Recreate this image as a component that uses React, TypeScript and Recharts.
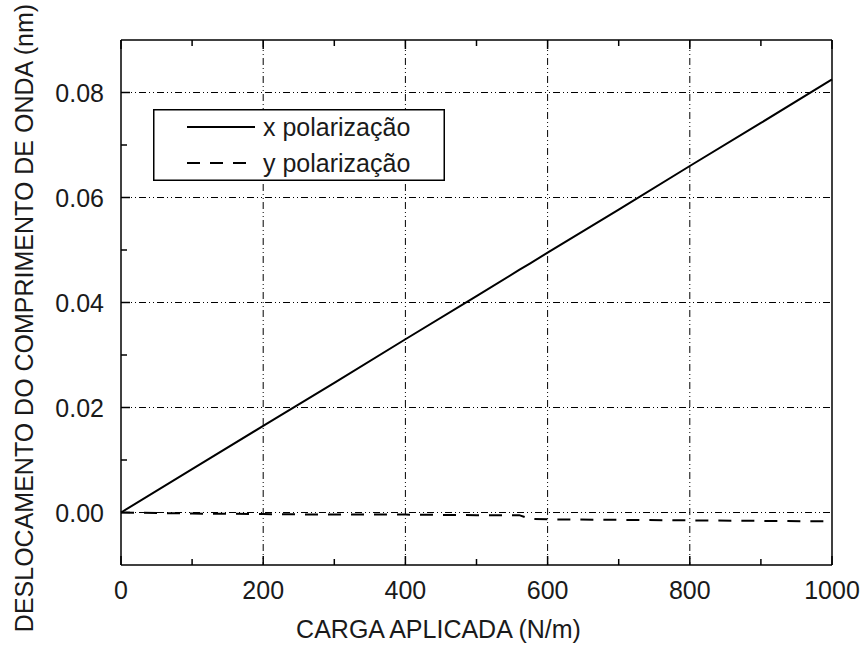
import React from 'react';
import { LineChart, Line, XAxis, YAxis, CartesianGrid } from 'recharts';

// applied load (N/m)
const loads = [0, 100, 200, 300, 400, 500, 560, 575, 600, 700, 800, 900, 1000];
// wavelength shift (nm)
const xPol = [0, 0.00825, 0.0165, 0.0247, 0.033, 0.0412, 0.0462, 0.0474, 0.0495, 0.0577, 0.066, 0.0742, 0.0825];
const yPol = [0, -0.0002, -0.0003, -0.0004, -0.0004, -0.0005, -0.0005, -0.0012, -0.0013, -0.0014, -0.0015, -0.0016, -0.0017];

const xTicks = [0, 100, 200, 300, 400, 500, 600, 700, 800, 900, 1000];
const yTicks = [0, 0.01, 0.02, 0.03, 0.04, 0.05, 0.06, 0.07, 0.08];
const xGrid = [200, 400, 600, 800];
const yGrid = [0, 0.02, 0.04, 0.06, 0.08];

const data = loads.map((load, i) => ({ load, x: xPol[i], y: yPol[i] }));

const FONT = '"Liberation Sans", Arial, sans-serif';
const TXT = '#1a1a1a';

const isMajorX = (v: number) => v % 200 === 0;
const isMajorY = (v: number) => Math.round(v * 100) % 2 === 0;

const BottomTick = (props: any) => {
  const { x, y, payload } = props;
  const major = isMajorX(payload.value);
  return (
    <g>
      <line x1={x} x2={x} y1={y} y2={y - (major ? 9 : 6)} stroke="#000" strokeWidth={1.5} />
      {major && (
        <text x={x} y={y + 25} textAnchor="middle" dominantBaseline="central" fontSize={25} fontFamily={FONT} fill={TXT}>
          {payload.value}
        </text>
      )}
    </g>
  );
};

const TopTick = (props: any) => {
  const { x, y, payload } = props;
  const major = isMajorX(payload.value);
  return <line x1={x} x2={x} y1={y} y2={y + (major ? 9 : 6)} stroke="#000" strokeWidth={1.5} />;
};

const LeftTick = (props: any) => {
  const { x, y, payload } = props;
  const major = isMajorY(payload.value);
  return (
    <g>
      <line x1={x} x2={x + (major ? 9 : 6)} y1={y} y2={y} stroke="#000" strokeWidth={1.5} />
      {major && (
        <text x={x - 17} y={y} textAnchor="end" dominantBaseline="central" fontSize={25} fontFamily={FONT} fill={TXT}>
          {payload.value.toFixed(2)}
        </text>
      )}
    </g>
  );
};

const RightTick = (props: any) => {
  const { x, y, payload } = props;
  const major = isMajorY(payload.value);
  return <line x1={x} x2={x - (major ? 9 : 6)} y1={y} y2={y} stroke="#000" strokeWidth={1.5} />;
};

const KeyBox = () => (
  <svg width={292} height={72} style={{ position: 'absolute', left: 153, top: 109, display: 'block' }}>
    <rect x={0.75} y={0.75} width={290.5} height={70.5} fill="#fff" stroke="#000" strokeWidth={1.5} />
    <line x1={34} x2={102} y1={18} y2={18} stroke="#000" strokeWidth={2} />
    <text x={110} y={18} dominantBaseline="central" fontSize={25} fontFamily={FONT} fill={TXT}>x polarização</text>
    <line x1={34} x2={102} y1={54} y2={54} stroke="#000" strokeWidth={2} strokeDasharray="13 10" />
    <text x={110} y={54} dominantBaseline="central" fontSize={25} fontFamily={FONT} fill={TXT}>y polarização</text>
  </svg>
);

const App = () => {
  return (
    <div style={{ position: 'absolute', left: 0, top: 0, width: 860, height: 653, background: '#fff' }}>
      <LineChart width={860} height={653} data={data} margin={{ top: 39, right: 27, bottom: 0, left: 0 }}>
        <CartesianGrid
          horizontalValues={yGrid}
          verticalValues={xGrid}
          stroke="#000"
          strokeWidth={1}
          strokeDasharray="7 3 1 3 1 3"
        />
        <XAxis
          dataKey="load"
          type="number"
          domain={[0, 1000]}
          ticks={xTicks}
          height={88}
          tickSize={0}
          tickMargin={0}
          tickLine={false}
          tick={<BottomTick />}
          axisLine={{ stroke: '#000', strokeWidth: 1.5 }}
          interval={0}
          label={{ value: 'CARGA APLICADA (N/m)', position: 'insideBottom', offset: 15, dx: -38, fontSize: 25, fontFamily: FONT, fill: TXT }}
        />
        <XAxis
          xAxisId="top"
          orientation="top"
          dataKey="load"
          type="number"
          domain={[0, 1000]}
          ticks={xTicks}
          height={1}
          tickSize={0}
          tickMargin={0}
          tickLine={false}
          tick={<TopTick />}
          axisLine={{ stroke: '#000', strokeWidth: 1.5 }}
          interval={0}
        />
        <YAxis
          type="number"
          domain={[-0.01, 0.09]}
          ticks={yTicks}
          width={121}
          tickSize={0}
          tickMargin={0}
          tickLine={false}
          tick={<LeftTick />}
          axisLine={{ stroke: '#000', strokeWidth: 1.5 }}
          interval={0}
          label={{
            value: 'DESLOCAMENTO DO COMPRIMENTO DE ONDA (nm)',
            content: () => (
              <text
                x={24}
                y={318}
                transform="rotate(-90 24 318)"
                textAnchor="middle"
                dominantBaseline="central"
                fontSize={25}
                fontFamily={FONT}
                fill={TXT}
              >
                DESLOCAMENTO DO COMPRIMENTO DE ONDA (nm)
              </text>
            ),
          }}
        />
        <YAxis
          yAxisId="right"
          orientation="right"
          type="number"
          domain={[-0.01, 0.09]}
          ticks={yTicks}
          width={1}
          tickSize={0}
          tickMargin={0}
          tickLine={false}
          tick={<RightTick />}
          axisLine={{ stroke: '#000', strokeWidth: 1.5 }}
          interval={0}
        />
        <Line dataKey="x" type="linear" stroke="#000" strokeWidth={2} dot={false} isAnimationActive={false} />
        <Line dataKey="y" type="linear" stroke="#000" strokeWidth={2} strokeDasharray="13 10" dot={false} isAnimationActive={false} />
      </LineChart>
      <KeyBox />
    </div>
  );
};

export default App;
